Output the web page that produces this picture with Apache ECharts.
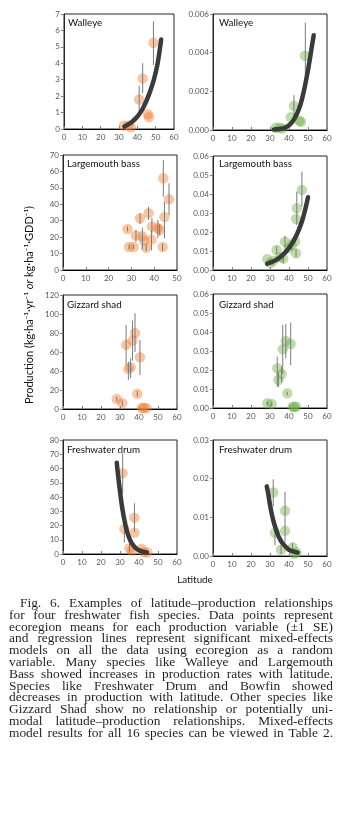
<!DOCTYPE html>
<html><head><meta charset="utf-8">
<script src="https://cdn.jsdelivr.net/npm/echarts/dist/echarts.min.js"></script>
<style>
html,body{margin:0;padding:0;background:#fff;}
#chart{position:absolute;left:0;top:0;width:348px;height:821px;}
#caption{position:absolute;left:9px;top:597px;width:324px;font-family:'Liberation Serif','Times New Roman',serif;font-size:13.4px;line-height:11.8px;color:#231f20;}
#caption div{text-align:justify;text-align-last:justify;white-space:nowrap;}
#caption div.first{padding-left:11px;}
</style></head>
<body>
<div id="chart"></div>
<div id="caption">
<div class="first">Fig. 6. Examples of latitude–production relationships</div>
<div>for four freshwater fish species. Data points represent</div>
<div>ecoregion means for each production variable (±1 SE)</div>
<div>and regression lines represent significant mixed-effects</div>
<div>models on all the data using ecoregion as a random</div>
<div>variable. Many species like Walleye and Largemouth</div>
<div>Bass showed increases in production rates with latitude.</div>
<div>Species like Freshwater Drum and Bowfin showed</div>
<div>decreases in production with latitude. Other species like</div>
<div>Gizzard Shad show no relationship or potentially uni-</div>
<div>modal latitude–production relationships. Mixed-effects</div>
<div>model results for all 16 species can be viewed in Table 2.</div>
</div>
<script>
// ---------- tick labels ----------
const xTicks60 = ['0','10','20','30','40','50','60'];
const xTicks50 = ['0','10','20','30','40','50'];
const yTicksWalleyeRate = ['0','1','2','3','4','5','6','7'];
const yTicksWalleyeGdd = ['0.000','0.002','0.004','0.006'];
const yTicksLmbRate = ['0','10','20','30','40','50','60','70'];
const yTicksLmbGdd = ['0.00','0.01','0.02','0.03','0.04','0.05','0.06'];
const yTicksGsRate = ['0','20','40','60','80','100','120'];
const yTicksGsGdd = ['0.00','0.01','0.02','0.03','0.04','0.05','0.06'];
const yTicksFdRate = ['0','10','20','30','40','50','60','70','80'];
const yTicksFdGdd = ['0.00','0.01','0.02','0.03'];

const speciesNames = ['Walleye','Walleye','Largemouth bass','Largemouth bass','Gizzard shad','Gizzard shad','Freshwater drum','Freshwater drum'];

// ---------- Walleye ----------
const walleyeRatePts = [[32.6,0.2],[35.0,0.22],[36.5,0.1],[41.0,1.8],[42.9,3.08],[45.8,0.9],[46.3,0.72],[48.8,5.25]];
const walleyeRateErr = [[41.0,0.95,2.65],[42.9,2.17,4.0],[48.8,3.9,6.55]];
const walleyeRateFit = [[33,0.15],[35,0.28],[37,0.43],[39,0.63],[41,0.9],[43,1.25],[45,1.72],[47,2.3],[49,3.0],[51,3.95],[53,5.45]];

const walleyeGddPts = [[33.0,0.00012],[35.0,0.00012],[36.5,0.00008],[40.9,0.00066],[42.6,0.00124],[45.5,0.00048],[46.3,0.00042],[48.4,0.00384]];
const walleyeGddErr = [[42.6,0.0007,0.0018],[48.6,0.0021,0.00555]];
const walleyeGddFit = [[32,0.00002],[35,0.00005],[38,0.00013],[40,0.00025],[42,0.00045],[44,0.0008],[46,0.0013],[48,0.0021],[50,0.0031],[52,0.0043],[53,0.0049]];

// ---------- Largemouth bass ----------
const lmbRatePts = [[28.3,25],[29.0,14],[31.0,14],[32.0,21],[33.8,31.5],[34.8,20.5],[35.5,18],[36.5,13.5],[37.5,34.5],[38.8,18.5],[39.0,26.5],[41.6,25.5],[42.4,24.3],[43.7,14],[44.0,55.8],[44.5,32.3],[46.5,43]];
const lmbRateErr = [[28.3,23.5,26.5],[29.0,12.5,15.5],[31.0,12.8,15.2],[32.0,17.2,24.5],[33.8,28,34.5],[34.8,12.6,25.8],[36.5,11.5,15.5],[37.5,30.4,38.5],[38.8,12,24],[39.0,22.3,31.5],[41.6,19.5,30.4],[42.4,21,28],[43.7,11.5,16],[44.0,44.6,67],[44.5,19.3,41.6],[46.5,33.5,52.8]];

const lmbGddPts = [[28.6,0.0058],[30.0,0.0037],[31.8,0.0048],[33.5,0.0105],[35.3,0.0068],[37.0,0.006],[37.9,0.0149],[39.8,0.0115],[41.4,0.0132],[43.2,0.015],[43.7,0.0088],[43.8,0.0268],[44.1,0.0325],[46.8,0.0421]];
const lmbGddErr = [[33.5,0.0085,0.0125],[37.0,0.0035,0.0085],[37.9,0.0118,0.018],[41.4,0.0105,0.016],[43.7,0.0068,0.011],[44.1,0.0237,0.0412],[46.8,0.0333,0.0517]];
const lmbGddFit = [[28.5,0.0033],[31,0.0043],[33,0.0052],[35,0.0065],[37,0.0082],[39,0.0104],[41,0.013],[43,0.0163],[45,0.0207],[47,0.0262],[49,0.0338],[50,0.0383]];

// ---------- Gizzard shad ----------
const gsRatePts = [[28.3,10.5],[31.2,6],[33.2,67.5],[34.4,42],[35.6,44],[36.6,72],[37.9,80],[39.1,16],[40.5,54.5],[41.4,1],[42.6,1.2],[44.0,0.8]];
const gsRateErr = [[28.3,8,13],[31.2,3,9],[33.2,46.3,88.4],[34.4,30.5,49.8],[35.6,32.3,53.4],[36.6,51,93],[37.9,60,100.7],[39.1,13,19],[40.5,35.8,72.6]];

const gsGddPts = [[28.6,0.0025],[30.9,0.0021],[33.8,0.0209],[34.4,0.0147],[36.1,0.0179],[36.7,0.0309],[38.3,0.0353],[39.1,0.0077],[40.9,0.0337],[41.9,0.0007],[42.8,0.0005],[43.7,0.0007]];
const gsGddErr = [[28.6,0.0015,0.0035],[30.9,0.0012,0.003],[33.8,0.0112,0.027],[34.4,0.011,0.0185],[36.1,0.0138,0.0217],[36.7,0.018,0.0437],[38.3,0.0262,0.0442],[39.1,0.0068,0.0086],[40.9,0.0226,0.0449]];

// ---------- Freshwater drum ----------
const fdRatePts = [[31.4,56.6],[32.3,17.5],[35.0,4],[36.3,2.5],[37.6,25.5],[37.6,15],[41.4,3.5],[42.6,1.2],[44.4,1]];
const fdRateErr = [[31.4,42.5,70.7],[32.3,8,27],[35.0,1,7],[37.6,15.5,35.6]];
const fdRateFit = [[28.3,64],[29,55],[30,44],[31,34],[32,26],[33,19.5],[34,14.5],[35,10.8],[36,8],[38,4.5],[40,2.6],[42,1.6],[44.2,1]];

const fdGddPts = [[31.7,0.0164],[32.6,0.006],[35.8,0.0016],[37.9,0.0117],[37.9,0.0065],[41.9,0.0022],[42.6,0.0006],[44.0,0.0009]];
const fdGddErr = [[31.7,0.0128,0.0198],[32.6,0.0028,0.0093],[35.8,0.0005,0.0027],[37.9,0.0035,0.0166],[41.9,0.001,0.0034]];
const fdGddFit = [[28.3,0.018],[29,0.0163],[30,0.0132],[31,0.0107],[32,0.0087],[33,0.0071],[34,0.0057],[35,0.0046],[36,0.0037],[38,0.0025],[40,0.0016],[42,0.0012],[44.6,0.0009]];

// ---------- layout / styles ----------
const panels = [
  {grid:{left:64,top:14,width:110,height:115}, xt:xTicks60, yt:yTicksWalleyeRate, pts:walleyeRatePts, err:walleyeRateErr, fit:walleyeRateFit, c:'rgba(237,125,49,0.55)', tl:[68,18]},
  {grid:{left:213,top:14,width:114,height:116}, xt:xTicks60, yt:yTicksWalleyeGdd, pts:walleyeGddPts, err:walleyeGddErr, fit:walleyeGddFit, c:'rgba(112,173,71,0.55)', tl:[219,18]},
  {grid:{left:63,top:155,width:114,height:115}, xt:xTicks50, yt:yTicksLmbRate, pts:lmbRatePts, err:lmbRateErr, fit:null, c:'rgba(237,125,49,0.55)', tl:[67,158.5]},
  {grid:{left:213,top:156,width:114,height:114}, xt:xTicks60, yt:yTicksLmbGdd, pts:lmbGddPts, err:lmbGddErr, fit:lmbGddFit, c:'rgba(112,173,71,0.55)', tl:[219,158.5]},
  {grid:{left:63,top:295,width:114,height:114}, xt:xTicks60, yt:yTicksGsRate, pts:gsRatePts, err:gsRateErr, fit:null, c:'rgba(237,125,49,0.55)', tl:[67,299.5]},
  {grid:{left:213,top:294,width:114,height:114}, xt:xTicks60, yt:yTicksGsGdd, pts:gsGddPts, err:gsGddErr, fit:null, c:'rgba(112,173,71,0.55)', tl:[219,299.5]},
  {grid:{left:63,top:440,width:114,height:114}, xt:xTicks60, yt:yTicksFdRate, pts:fdRatePts, err:fdRateErr, fit:fdRateFit, c:'rgba(237,125,49,0.55)', tl:[67,445]},
  {grid:{left:213,top:440,width:114,height:116}, xt:xTicks60, yt:yTicksFdGdd, pts:fdGddPts, err:fdGddErr, fit:fdGddFit, c:'rgba(112,173,71,0.55)', tl:[219,445]}
];

const FONT = 'Lato, "Open Sans", sans-serif';
function axisFromTicks(ticks){
  const min = +ticks[0], max = +ticks[ticks.length-1], interval = +ticks[1] - +ticks[0];
  return {min, max, interval, formatter: v => { const i = Math.round((v-min)/interval); return ticks[i] !== undefined ? ticks[i] : ''; }};
}

const grids=[], xAxes=[], yAxes=[], series=[], titles=[];
panels.forEach((p,i)=>{
  grids.push(Object.assign({show:true, borderColor:'#262626', borderWidth:1, containLabel:false}, p.grid));
  const xa = axisFromTicks(p.xt), ya = axisFromTicks(p.yt);
  xAxes.push({type:'value', gridIndex:i, min:xa.min, max:xa.max, interval:xa.interval,
    axisLine:{show:true, onZero:false, lineStyle:{color:'#000', width:1}},
    axisTick:{show:true, inside:true, length:3, lineStyle:{color:'#7f7f7f'}},
    splitLine:{show:false},
    axisLabel:{formatter:xa.formatter, fontSize:8, color:'#595959', margin:4, fontFamily:FONT}});
  yAxes.push({type:'value', gridIndex:i, min:ya.min, max:ya.max, interval:ya.interval,
    axisLine:{show:true, onZero:false, lineStyle:{color:'#262626', width:1}},
    axisTick:{show:true, inside:false, length:3, lineStyle:{color:'#7f7f7f'}},
    splitLine:{show:false},
    axisLabel:{formatter:ya.formatter, fontSize:8, color:'#595959', margin:4, fontFamily:FONT}});
  series.push({type:'scatter', xAxisIndex:i, yAxisIndex:i, data:p.pts, symbol:'circle', symbolSize:10.5,
    itemStyle:{color:p.c, borderWidth:0}, silent:true, z:2});
  series.push({type:'custom', xAxisIndex:i, yAxisIndex:i, data:p.err, encode:{x:0, y:[1,2]}, z:3, silent:true,
    renderItem:(params, api)=>{
      const x = api.value(0), lo = api.value(1), hi = api.value(2);
      const a = api.coord([x, lo]), b = api.coord([x, hi]);
      return {type:'line', shape:{x1:a[0], y1:a[1], x2:b[0], y2:b[1]}, style:{stroke:'#7a7a7a', lineWidth:1}};
    }});
  if(p.fit){
    series.push({type:'line', xAxisIndex:i, yAxisIndex:i, data:p.fit, smooth:0.35, showSymbol:false, z:4, silent:true,
      lineStyle:{color:'#3a3a3a', width:4.5, cap:'round'}});
  }
  titles.push({text:speciesNames[i], left:p.tl[0], top:p.tl[1], padding:0,
    textStyle:{fontSize:9.8, fontWeight:'normal', color:'#111', fontFamily:FONT}});
});

const chart = echarts.init(document.getElementById('chart'), null, {renderer:'canvas'});
chart.setOption({
  animation:false,
  backgroundColor:'transparent',
  title:titles,
  grid:grids, xAxis:xAxes, yAxis:yAxes, series:series,
  graphic:[
    {type:'text', x:29, y:305, rotation:Math.PI/2, silent:true,
      style:{text:'{a|Production (kg·ha⁻¹·yr⁻¹ }{b|or}{a| kg·ha⁻¹·GDD⁻¹)}', align:'center', verticalAlign:'middle',
        rich:{a:{fontSize:11, fontFamily:FONT, fill:'#111'}, b:{fontSize:11, fontFamily:FONT, fontStyle:'italic', fill:'#111'}}}},
    {type:'text', x:195, y:580, silent:true,
      style:{text:'Latitude', align:'center', verticalAlign:'middle', fontSize:9.8, fontFamily:FONT, fill:'#111'}}
  ]
});
</script>
</body></html>
